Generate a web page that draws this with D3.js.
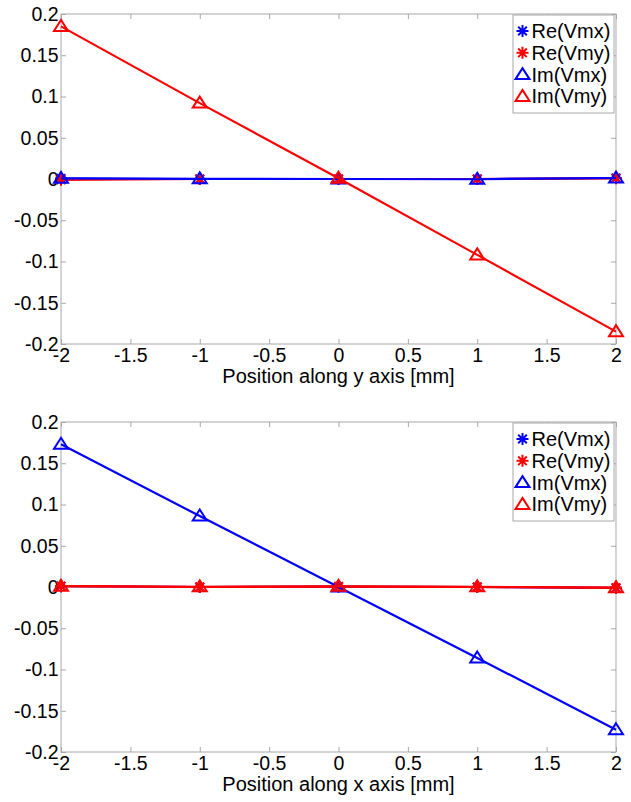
<!DOCTYPE html>
<html><head><meta charset="utf-8">
<script src="https://cdn.jsdelivr.net/npm/d3@7"></script>
<style>
html,body{margin:0;padding:0;background:#fff;}
svg{display:block;font-family:"Liberation Sans",Arial,sans-serif;}
</style></head>
<body><svg id="c" width="631" height="802"></svg>
<script>
const positions = [-2, -1, 0, 1, 2];
const xTicks = [-2, -1.5, -1, -0.5, 0, 0.5, 1, 1.5, 2];
const yTicks = [-0.2, -0.15, -0.1, -0.05, 0, 0.05, 0.1, 0.15, 0.2];
const seriesNames = ["Re(Vmx)", "Re(Vmy)", "Im(Vmx)", "Im(Vmy)"];
const seriesColors = ["#0000ff", "#ff0000", "#0000ff", "#ff0000"];
const seriesMarkers = ["star", "star", "triangle", "triangle"];

// Top panel: position along y axis
const topReVmx = [0.0005, 0.0, 0.0, 0.0, 0.0012];
const topReVmy = [-0.001, 0.0, 0.0, 0.0, 0.0008];
const topImVmx = [0.0008, 0.0002, 0.0, -0.0003, 0.0012];
const topImVmy = [0.185, 0.092, 0.001, -0.092, -0.185];
const topXLabel = "Position along y axis [mm]";

// Bottom panel: position along x axis
const botReVmx = [0.001, 0.0, 0.0005, 0.0, -0.001];
const botReVmy = [0.001, 0.0, 0.0005, 0.0, -0.001];
const botImVmx = [0.173, 0.086, 0.0, -0.086, -0.173];
const botImVmy = [0.001, 0.0003, 0.0008, 0.0002, -0.0008];
const botXLabel = "Position along x axis [mm]";

const svg = d3.select("#c");
const AX = "#a8a8a8";
const FS = 20, TFS = 19.5;
const L = 61, R = 616;

function drawPanel(top, bottom, series, xlabel) {
  const x = d3.scaleLinear().domain([-2, 2]).range([L, R]);
  const y = d3.scaleLinear().domain([-0.2, 0.2]).range([bottom, top]);
  const g = svg.append("g");

  const fmt = d => String(+d.toFixed(2));
  const xb = g.append("g").attr("transform", `translate(0,${bottom})`)
    .call(d3.axisBottom(x).tickValues(xTicks).tickSize(-5).tickPadding(4.5).tickFormat(fmt));
  const xt = g.append("g").attr("transform", `translate(0,${top})`)
    .call(d3.axisTop(x).tickValues(xTicks).tickSize(-5).tickFormat(""));
  const yl = g.append("g").attr("transform", `translate(${L},0)`)
    .call(d3.axisLeft(y).tickValues(yTicks).tickSize(-5).tickPadding(2.5).tickFormat(fmt));
  const yr = g.append("g").attr("transform", `translate(${R},0)`)
    .call(d3.axisRight(y).tickValues(yTicks).tickSize(-5).tickFormat(""));
  [xb, xt, yl, yr].forEach(a => {
    a.select(".domain").remove();
    a.selectAll("line").attr("stroke", AX);
    a.selectAll("text").attr("fill", "#000").style("font-size", TFS + "px")
      .style("font-family", '"Liberation Sans",Arial,sans-serif');
  });
  g.append("rect").attr("x", L).attr("y", top).attr("width", R - L).attr("height", bottom - top)
    .attr("fill", "none").attr("stroke", AX).attr("stroke-width", 1);

  g.append("text").attr("x", (L + R) / 2).attr("y", bottom + 39)
    .attr("text-anchor", "middle").style("font-size", FS + "px").text(xlabel);

  const line = d3.line().x((d, i) => x(positions[i])).y(d => y(d));
  series.forEach((vals, si) => {
    const c = seriesColors[si];
    g.append("path").attr("d", line(vals)).attr("fill", "none")
      .attr("stroke", c).attr("stroke-width", 2.2);
    vals.forEach((v, i) => drawMarker(g, seriesMarkers[si], x(positions[i]), y(v), c));
  });

  // legend
  const lx = 513, ly = top + 1, lw = 101, lh = 98;
  const lg = g.append("g");
  lg.append("rect").attr("x", lx).attr("y", ly).attr("width", lw).attr("height", lh)
    .attr("fill", "#fff").attr("stroke", AX).attr("stroke-width", 1);
  seriesNames.forEach((n, i) => {
    const cy = ly + 16 + i * 21.8;
    drawMarker(lg, seriesMarkers[i], lx + 9.5, cy, seriesColors[i]);
    lg.append("text").attr("x", lx + 18.5).attr("y", cy).attr("dy", "0.35em")
      .style("font-size", FS + "px").text(n);
  });
}

function drawMarker(g, type, cx, cy, c) {
  if (type === "triangle") {
    g.append("path")
      .attr("d", `M${cx},${cy - 6.5}L${cx + 7},${cy + 4.5}L${cx - 7},${cy + 4.5}Z`)
      .attr("fill", "none").attr("stroke", c).attr("stroke-width", 2)
      .attr("stroke-linejoin", "miter");
  } else {
    const r = 6, d = r * 0.72;
    g.append("path")
      .attr("d", `M${cx - r},${cy}L${cx + r},${cy}M${cx},${cy - r}L${cx},${cy + r}` +
        `M${cx - d},${cy - d}L${cx + d},${cy + d}M${cx - d},${cy + d}L${cx + d},${cy - d}`)
      .attr("fill", "none").attr("stroke", c).attr("stroke-width", 2);
  }
}

drawPanel(14, 344, [topReVmx, topReVmy, topImVmx, topImVmy], topXLabel);
drawPanel(422, 752, [botReVmx, botReVmy, botImVmx, botImVmy], botXLabel);
</script></body></html>
